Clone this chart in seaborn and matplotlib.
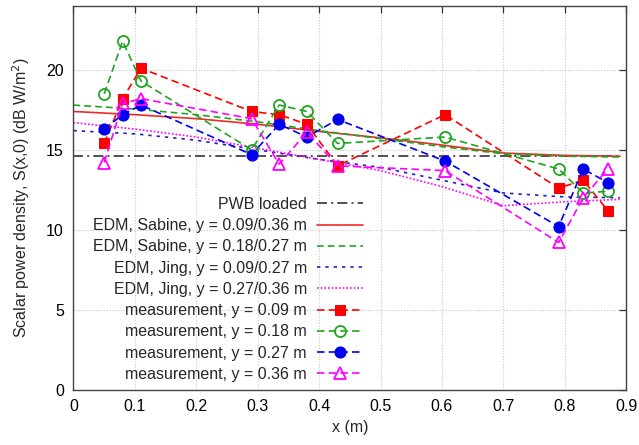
import numpy as np
import pandas as pd
import matplotlib
matplotlib.use("Agg")
import matplotlib.pyplot as plt
import seaborn as sns

# ---------------- data ----------------
model_x = [0.0, 0.1, 0.2, 0.3, 0.4, 0.5, 0.6, 0.7, 0.8, 0.89]
pwb_loaded = [14.6] * len(model_x)
sabine_09_36 = [17.4, 17.2, 16.95, 16.6, 16.15, 15.75, 15.3, 14.8, 14.65, 14.6]
sabine_18_27 = [17.8, 17.55, 17.2, 16.75, 16.2, 15.7, 15.2, 14.75, 14.6, 14.55]
jing_09_27 = [16.2, 16.0, 15.6, 15.0, 14.4, 13.9, 13.1, 12.3, 12.05, 12.0]
jing_27_36 = [16.7, 16.3, 15.8, 15.1, 14.4, 13.7, 12.7, 11.5, 11.75, 11.9]

meas_x = [0.05, 0.08, 0.11, 0.29, 0.335, 0.38, 0.43, 0.605, 0.79, 0.83, 0.87]
meas_09 = [15.4, 18.2, 20.1, 17.4, 17.2, 16.6, 14.0, 17.2, 12.6, 13.1, 11.2]
meas_18 = [18.5, 21.8, 19.3, 15.0, 17.8, 17.4, 15.4, 15.8, 13.8, 12.3, 12.4]
meas_27 = [16.3, 17.2, 17.8, 14.7, 16.6, 15.8, 16.9, 14.3, 10.2, 13.8, 12.95]
meas_36 = [14.2, 17.9, 18.2, 16.95, 14.1, 16.1, 14.0, 13.7, 9.2, 12.0, 13.8]

x_ticks = [0, 0.1, 0.2, 0.3, 0.4, 0.5, 0.6, 0.7, 0.8, 0.9]
y_ticks = [0, 5, 10, 15, 20]

# ---------------- style ----------------
sns.set_theme(style="white")
plt.rcParams['font.family'] = ['Liberation Sans', 'DejaVu Sans']
plt.rcParams['font.size'] = 11.5

fig = plt.figure(figsize=(6.39, 4.45), dpi=100)
ax = fig.add_axes([0.115, 0.1247, 0.865, 0.8618])

RED = '#ff0000'
GREEN = '#1fa51f'
BLUE = '#0000f0'
MAG = '#ff00ff'

lw = 1.2
dash = (4.5, 2.5)

sns.lineplot(x=model_x, y=pwb_loaded, ax=ax, color='#333333', lw=lw,
             linestyle=(0, (6, 2.5, 1.2, 2.5)), label='PWB loaded', sort=False)
sns.lineplot(x=model_x, y=sabine_09_36, ax=ax, color='#ee2a2a', lw=lw,
             label='EDM, Sabine, y = 0.09/0.36 m', sort=False)
sns.lineplot(x=model_x, y=sabine_18_27, ax=ax, color=GREEN, lw=lw,
             linestyle=(0, (4, 2.5)), label='EDM, Sabine, y = 0.18/0.27 m', sort=False)
sns.lineplot(x=model_x, y=jing_09_27, ax=ax, color='#2020c0', lw=lw,
             linestyle=(0, (2, 3)), label='EDM, Jing, y = 0.09/0.27 m', sort=False)
sns.lineplot(x=model_x, y=jing_27_36, ax=ax, color=MAG, lw=lw,
             linestyle=(0, (1, 1.2)), label='EDM, Jing, y = 0.27/0.36 m', sort=False)

sns.lineplot(x=meas_x, y=meas_09, ax=ax, color=RED, lw=lw, linestyle=(0, dash),
             marker='s', markersize=7, markeredgecolor=RED, markerfacecolor=RED,
             label='measurement, y = 0.09 m', sort=False)
sns.lineplot(x=meas_x, y=meas_18, ax=ax, color=GREEN, lw=lw, linestyle=(0, dash),
             marker='o', markersize=8, markeredgecolor=GREEN, markerfacecolor='none',
             markeredgewidth=1.3, label='measurement, y = 0.18 m', sort=False)
sns.lineplot(x=meas_x, y=meas_27, ax=ax, color=BLUE, lw=lw, linestyle=(0, dash),
             marker='o', markersize=8, markeredgecolor=BLUE, markerfacecolor=BLUE,
             label='measurement, y = 0.27 m', sort=False)
sns.lineplot(x=meas_x, y=meas_36, ax=ax, color=MAG, lw=lw, linestyle=(0, dash),
             marker='^', markersize=8, markeredgecolor=MAG, markerfacecolor='none',
             markeredgewidth=1.3, label='measurement, y = 0.36 m', sort=False)

ax.set_xlim(0, 0.9)
ax.set_ylim(0, 24)
ax.set_xticks(x_ticks)
ax.set_xticklabels([f"{t:g}" for t in x_ticks])
ax.set_yticks(y_ticks)
ax.grid(True, color='#c8c8c8', linestyle=(0, (1, 1.5)), linewidth=0.8)
ax.tick_params(direction='in', length=5, width=0.9, top=True, right=True,
               colors='#333333', labelcolor='black', labelsize=11.5, pad=7)
for s in ax.spines.values():
    s.set_color('#444444')
    s.set_linewidth(1.0)

ax.set_xlabel('x (m)', fontsize=11.5, labelpad=4)
ax.set_ylabel('Scalar power density, S(x,0) (dB W/m$^2$)', fontsize=11.5, labelpad=10)

leg = ax.legend(loc='lower right', bbox_to_anchor=(0.542, -0.005), frameon=False,
                markerfirst=False, handlelength=2.9, handletextpad=0.65,
                labelspacing=0.39, fontsize=11.5, borderaxespad=0.2)

fig.savefig('out.png', dpi=100)
